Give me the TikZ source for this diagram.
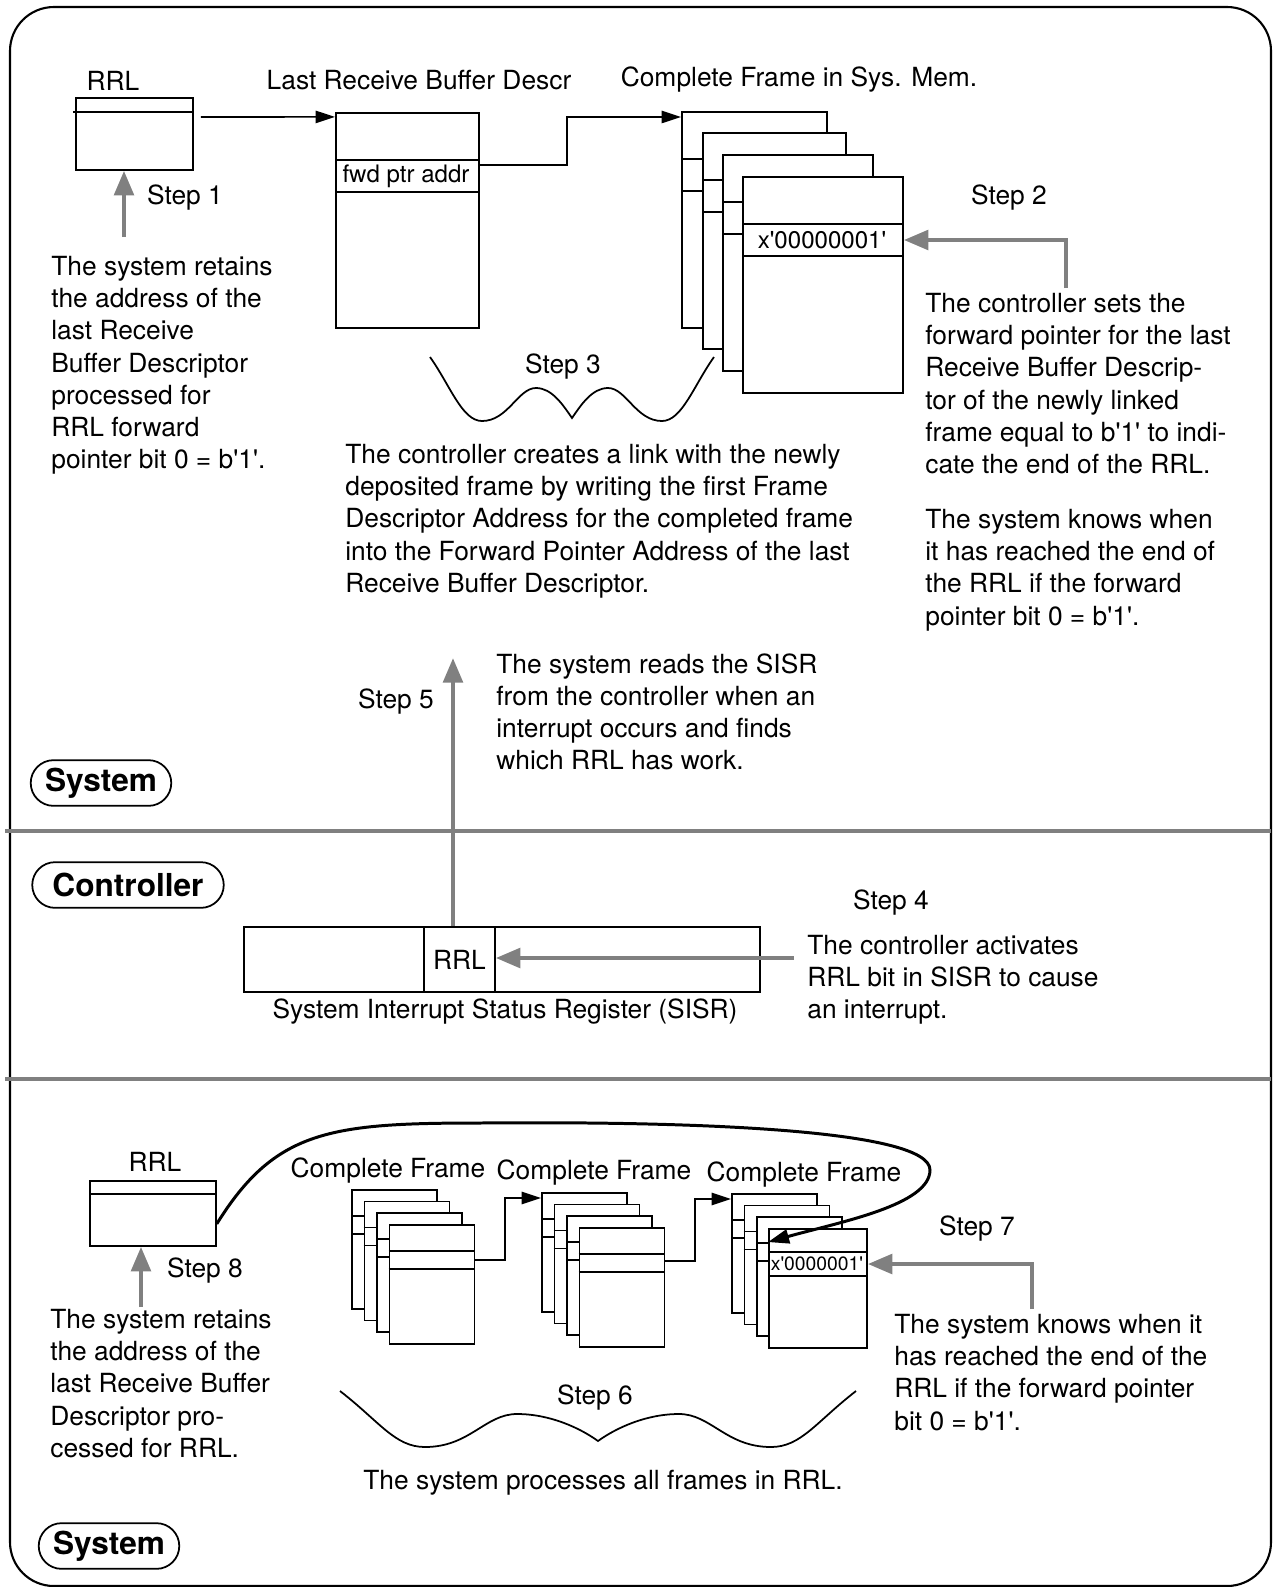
\documentclass[tikz,border=0pt]{standalone}
\usepackage{fontspec}
\setmainfont{TeX Gyre Heros}
\usetikzlibrary{arrows.meta}
\newcommand{\qs}{\textquotesingle}
\begin{document}
\begin{tikzpicture}[x=0.02cm,y=-0.02cm,font=\fontsize{15}{18.3}\selectfont,
  box/.style 2 args={draw,line width=1pt,fill=white,inner sep=0,anchor=north west,minimum width=#1*0.02cm,minimum height=#2*0.02cm},
  row/.style={line width=1pt},
  link/.style={line width=0.9pt,-{Triangle[length=11pt,width=7pt]}},
  hatch/.style={draw=black!50,line width=2.6pt,-{Triangle[length=14pt,width=11pt]}},
  sepline/.style={draw=black!50,line width=2.4pt},
  txt/.style={align=left,anchor=north west,inner sep=0},
  pill/.style={draw,line width=1pt,rounded corners=13pt,minimum height=26pt,font=\fontsize{18}{20}\selectfont\bfseries}]
\useasboundingbox (0,0) rectangle (1273,1587);
\draw[line width=1.2pt,rounded corners=25pt] (10,7) rectangle (1271,1586);
\draw[sepline] (5,831) -- (1271,831); \draw[sepline] (5,1079) -- (1271,1079);
\node[pill,minimum width=80pt] (sys1) at (101,783) {System};
\node[pill,minimum width=109pt] (ctrl) at (128,885) {Controller};
\node[pill,minimum width=80pt] (sys2) at (109,1546) {System};
\foreach \n/\x/\y in {1/185/198,2/1009/198,3/563/367,4/891/903,5/396/702,6/595/1398,7/977/1229,8/205/1271}
  {\node (step\n) at (\x,\y) {Step \n};}
% system, top
\node[box={117}{72}] (rrl) at (75,97) {}; \node (rrllbl) at (113,81) {RRL};
\draw[row] (rrl.north west) ++(-2,15) -- ++(119,0);
\node[box={143}{215}] (lrbd) at (335,112) {}; \node (lrbdlbl) at (419,80) {Last Receive Buffer Descr};
\draw[row] (lrbd.north west) ++(0,48) -- ++(143,0) (lrbd.north west) ++(0,80) -- ++(143,0);
\node[font=\fontsize{13.7}{16}\selectfont] (fwd) at (406,176) {fwd ptr addr};
\foreach \i/\x/\y/\w in {1/681/111/145,2/702/132/143,3/722/154/150,4/742/176/160}{
  \node[box={\w}{216}] (mem\i) at (\x,\y) {};
  \draw[row] (mem\i.north west) ++(0,48) -- ++(\w,0) (mem\i.north west) ++(0,80) -- ++(\w,0);}
\node (memlbl) at (799,80) {Complete Frame in Sys. Mem.};
\node[font=\fontsize{13.7}{16}\selectfont] (fwdval) at (822,240) {x\qs00000001\qs};
\draw[link] (rrl.north east) ++(7,20) -- ([yshift=-2.8pt]lrbd.north west);
\draw[link] (lrbd.north east) ++(0,53) -- ++(87,0) |- ([yshift=-3.4pt]mem1.north west);
\coordinate (s1) at (124,237); \draw[hatch] (s1) -- (s1 |- rrl.south);
\coordinate (s2) at (1066,288); \draw[hatch] (s2) |- (fwdval -| mem4.east);
\node[txt] (retain) at (51,256) {The system retains\\the address of the\\last Receive\\Buffer Descriptor\\processed for\\RRL forward\\pointer bit 0 = b\qs1\qs.};
\node[txt] (setptr) at (925,293) {The controller sets the\\forward pointer for the last\\Receive Buffer Descrip-\\tor of the newly linked\\frame equal to b\qs1\qs{} to indi-\\cate the end of the RRL.};
\node[txt] (knows) at (925,509) {The system knows when\\it has reached the end of\\the RRL if the forward\\pointer bit 0 = b\qs1\qs.};
\draw[row] (430,357) .. controls (450,385) and (462,421) .. (482,421) .. controls (508,421) and (518,388) .. (536,388)
  .. controls (552,388) and (563,405) .. (572,418) .. controls (581,405) and (592,388) .. (608,388)
  .. controls (626,388) and (636,421) .. (662,421) .. controls (682,421) and (694,385) .. (714,357);
\node[txt] (linktxt) at (345,444) {The controller creates a link with the newly\\deposited frame by writing the first Frame\\Descriptor Address for the completed frame\\into the Forward Pointer Address of the last\\Receive Buffer Descriptor.};
% controller
\node[box={516}{65}] (sisr) at (243,926) {};
\node[box={71}{65}] (rrlbit) at (423,926) {RRL};
\node (sisrlbl) at (505,1012) {System Interrupt Status Register (SISR)};
\coordinate (s4) at (794,958); \draw[hatch] (s4) -- (s4 -| rrlbit.east);
\coordinate (s5) at (453,658); \draw[hatch] (s5 |- rrlbit.north) -- (s5);
\node[txt] (reads) at (496,653) {The system reads the SISR\\from the controller when an\\interrupt occurs and finds\\which RRL has work.};
\node[txt] (activ) at (807,935) {The controller activates\\RRL bit in SISR to cause\\an interrupt.};
% system, bottom
\node[box={126}{65}] (brrl) at (89,1180) {}; \node (brrllbl) at (155,1162) {RRL};
\draw[row] (brrl.north west) ++(0,14) -- ++(126,0);
\foreach \s/\dx/\dy/\n in {1/0/0/4,2/190/3/4,3/380/4/3}
  \foreach \i in {1,...,\n}{
    \node[box={85}{119}] (fr\s\i) at ({351+\dx+12.5*(\i-1)},{1189+\dy+11.6*(\i-1)}) {};
    \draw[row] (fr\s\i.north west) ++(0,27) -- ++(85,0) (fr\s\i.north west) ++(0,45) -- ++(85,0);}
\node[box={98}{119}] (fr34) at (768,1228) {};
\draw[row] (fr34.north west) ++(0,24) -- ++(98,0) (fr34.north west) ++(0,48) -- ++(98,0);
\node[font=\fontsize{11}{13}\selectfont] (endval) at (817,1264) {x\qs0000001\qs};
\foreach \s/\x/\y in {1/388/1171,2/594/1173,3/804/1175}{\node (cf\s) at (\x,\y) {Complete Frame};}
\draw[link] (fr14.north east) ++(0,36) -- ++(30,0) |- ([yshift=-3.4pt]fr21.north west);
\draw[link] (fr24.north east) ++(0,34) -- ++(30,0) |- ([yshift=-3.4pt]fr31.north west);
\draw[line width=1.7pt,-{Triangle[length=12pt,width=8pt]}] ([yshift=-6pt]brrl.east) .. controls (275,1130) and (330,1123) .. (480,1123)
  .. controls (700,1121) and (930,1130) .. (930,1170) .. controls (930,1205) and (840,1222) .. ([yshift=-8pt]fr34.north west);
\coordinate (s7) at (1032,1309); \draw[hatch] (s7) |- (endval -| fr34.east);
\coordinate (s8) at (141,1307); \draw[hatch] (s8) -- (s8 |- brrl.south);
\node[txt] (retain2) at (50,1309) {The system retains\\the address of the\\last Receive Buffer\\Descriptor pro-\\cessed for RRL.};
\node[txt] (knows2) at (894,1314) {The system knows when it\\has reached the end of the\\RRL if the forward pointer\\bit 0 = b\qs1\qs.};
\draw[row] (340,1391) .. controls (380,1422) and (395,1447) .. (425,1447) .. controls (470,1447) and (485,1414) .. (517,1414)
  .. controls (550,1414) and (580,1428) .. (598,1441) .. controls (616,1428) and (646,1414) .. (679,1414)
  .. controls (711,1414) and (726,1447) .. (771,1447) .. controls (801,1447) and (816,1422) .. (856,1391);
\node (process) at (603,1483) {The system processes all frames in RRL.};
\end{tikzpicture}
\end{document}
